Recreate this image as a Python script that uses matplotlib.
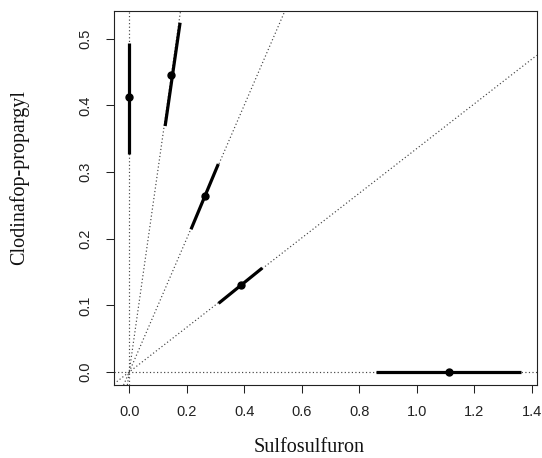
import numpy as np
import matplotlib
matplotlib.use("Agg")
import matplotlib.pyplot as plt

# estimated ED50 of each mixture (sulfosulfuron, clodinafop-propargyl)
sulfo = [0.0, 0.147, 0.264, 0.388, 1.112]
clodi = [0.412, 0.446, 0.264, 0.130, 0.0]

# confidence interval ends along each mixture ray
sulfo_lo = [0.0, 0.125, 0.215, 0.311, 0.858]
sulfo_hi = [0.0, 0.177, 0.310, 0.463, 1.362]
clodi_lo = [0.327, 0.369, 0.214, 0.103, 0.0]
clodi_hi = [0.494, 0.524, 0.312, 0.156, 0.0]

xticks = [0.0, 0.2, 0.4, 0.6, 0.8, 1.0, 1.2, 1.4]
yticks = [0.0, 0.1, 0.2, 0.3, 0.4, 0.5]

fig = plt.figure(figsize=(5.42, 4.58), dpi=100)
ax = fig.add_axes([0.2103, 0.1594, 0.7800, 0.8166])

# mixture rays through origin
for i in range(len(sulfo)):
    ax.axline((0, 0), (sulfo[i], clodi[i]), color="#444444", lw=0.85,
              linestyle=(0, (1, 2)), zorder=1)

# confidence intervals
for i in range(len(sulfo)):
    ax.plot([sulfo_lo[i], sulfo_hi[i]], [clodi_lo[i], clodi_hi[i]],
            color="black", lw=2.3, solid_capstyle="butt", zorder=2)

ax.plot(sulfo, clodi, "o", color="black", ms=5, zorder=3)

ax.set_xlim(-0.053, 1.418)
ax.set_ylim(-0.0195, 0.5416)
ax.set_xticks(xticks)
ax.set_yticks(yticks)
ax.set_xticklabels(["%.1f" % v for v in xticks])
ax.set_yticklabels(["%.1f" % v for v in yticks], rotation=90, va="center")

for lab in ax.get_xticklabels() + ax.get_yticklabels():
    lab.set_fontfamily("Liberation Sans")
    lab.set_fontsize(10.5)
    lab.set_color("#222222")

ax.tick_params(axis="both", length=5.5, width=0.75, color="#222222")
ax.tick_params(axis="x", pad=9)
ax.tick_params(axis="y", pad=10)
for s in ax.spines.values():
    s.set_linewidth(0.8)
    s.set_color("#222222")

fig.text(309 / 542, 1 - 448 / 458, "Sulfosulfuron", family="Liberation Serif",
         fontsize=14.5, ha="center", va="center", color="#111111")
fig.text(19 / 542, 1 - 177.5 / 458, "Clodinafop-propargyl", family="Liberation Serif",
         fontsize=14.5, ha="center", va="center", rotation=90, color="#111111")

fig.savefig("out.png", dpi=100)
